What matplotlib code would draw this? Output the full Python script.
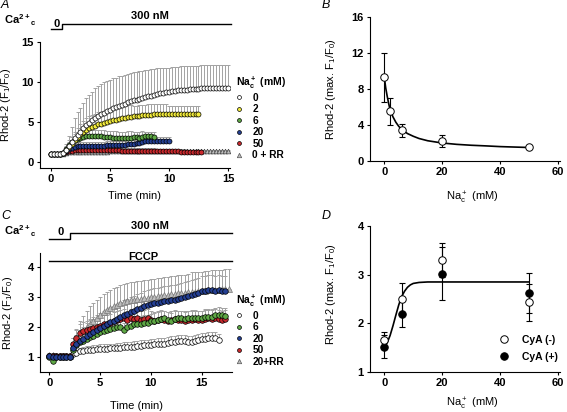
import matplotlib.pyplot as plt
import numpy as np
from matplotlib.lines import Line2D

# ---- panel A: Rhod-2 traces, 300 nM Ca, sampled every 0.25 min ----
DT_A = 0.25
A_NA0 = [1.0, 1.0, 1.0, 1.0,
         1.1, 1.5, 2.0, 2.5, 3.0, 3.4, 3.8, 4.2, 4.6, 4.9, 5.2, 5.5,
         5.75, 5.95, 6.15, 6.35,
         6.55, 6.7, 6.85, 7.0, 7.15, 7.3, 7.45, 7.6,
         7.7, 7.8, 7.9, 8.0, 8.1, 8.2, 8.3, 8.4, 8.5, 8.6, 8.65, 8.7,
         8.8, 8.85, 8.9, 8.95, 9.0, 9.05, 9.05, 9.1, 9.1, 9.15, 9.15, 9.2,
         9.2, 9.2, 9.2, 9.25, 9.25, 9.25, 9.25, 9.25, 9.2]
A_NA0_ERR = [0.2, 0.2, 0.2, 0.2,
             0.3, 0.8, 1.3, 1.9, 2.5, 2.8, 3.0, 3.2, 3.4, 3.5, 3.6, 3.7,
             3.75, 3.8, 3.8, 3.8,
             3.75, 3.75, 3.7, 3.7, 3.65, 3.6, 3.6, 3.55,
             3.5, 3.5, 3.45, 3.4, 3.4, 3.35, 3.3, 3.25, 3.2, 3.15, 3.1, 3.05,
             3.0, 3.0, 3.0, 2.95, 2.95, 2.95, 2.9, 2.9, 2.9, 2.9, 2.9, 2.9,
             2.9, 2.9, 2.9, 2.9, 2.9, 2.9, 2.9, 2.9, 2.9]
A_NA2 = [1.0, 1.0, 1.0, 1.0,
         1.1, 1.5, 1.9, 2.3, 2.7, 3.1, 3.45, 3.75, 4.0, 4.2, 4.4, 4.55,
         4.7, 4.8, 4.9, 5.0, 5.1, 5.2, 5.3, 5.4, 5.5, 5.55, 5.6, 5.65,
         5.7, 5.75, 5.8, 5.85, 5.85, 5.9, 5.9, 5.95, 5.95, 6.0, 5.95, 6.0,
         6.0, 6.0, 6.05, 6.0, 6.05, 6.05, 6.0, 6.05, 6.05, 6.05, 6.05]
A_NA2_ERR = [0.1, 0.1, 0.1, 0.1,
             0.2, 0.4, 0.6, 0.8, 1.0, 1.2, 1.3, 1.4,
             1.5, 1.5, 1.5, 1.5, 1.5, 1.5, 1.5, 1.5,
             1.5, 1.5, 1.5, 1.5, 1.5, 1.5, 1.5, 1.5,
             1.3, 1.3, 1.3, 1.3, 1.3, 1.3, 1.3, 1.3, 1.3, 1.3, 1.3, 1.3,
             1.0, 1.0, 1.0, 1.0, 1.0, 0.95, 0.95, 0.9, 0.9, 0.9, 0.9]
A_NA6 = [1.0, 1.0, 1.0, 1.0,
         1.1, 1.6, 2.1, 2.45, 2.7, 2.9, 3.05, 3.15, 3.2, 3.25, 3.25, 3.25,
         3.2, 3.2, 3.15, 3.1, 3.1, 3.05, 3.05, 3.0, 3.0, 3.0, 3.05, 3.05,
         3.1, 3.1, 3.05, 3.15, 3.2, 3.2, 3.2, 3.15]
A_NA6_ERR = [0.1, 0.1, 0.1, 0.1,
             0.2, 0.4, 0.6, 0.7, 0.8, 0.8, 0.8, 0.8, 0.8, 0.8, 0.8, 0.8,
             0.8, 0.8, 0.8, 0.8, 0.8, 0.8, 0.8, 0.8, 0.8, 0.8, 0.8, 0.8,
             0.7, 0.7, 0.7, 0.7, 0.6, 0.6, 0.6, 0.6]
A_NA20 = [1.0, 1.0, 1.0, 1.0,
          1.1, 1.4, 1.65, 1.8, 1.9, 1.95, 2.0, 2.0, 2.05, 2.05, 2.05, 2.05,
          2.05, 2.05, 2.05, 2.1, 2.1, 2.1, 2.1, 2.15, 2.15, 2.15, 2.2, 2.2,
          2.3, 2.35, 2.35, 2.55, 2.6, 2.6, 2.6, 2.6, 2.6, 2.6, 2.6, 2.6, 2.6]
A_NA20_ERR = [0.1, 0.1, 0.1, 0.1,
              0.2, 0.3, 0.4, 0.5, 0.5, 0.5, 0.5, 0.5, 0.5, 0.5, 0.5, 0.5,
              0.5, 0.5, 0.5, 0.5, 0.5, 0.5, 0.5, 0.5, 0.5, 0.5, 0.5, 0.5,
              0.5, 0.5, 0.5, 0.5, 0.5, 0.5, 0.5, 0.5, 0.5, 0.5, 0.5, 0.5, 0.5]
A_NA50 = [1.0, 1.0, 1.0, 1.0,
          1.1, 1.25, 1.35, 1.4,
          1.45, 1.45, 1.45, 1.45, 1.45, 1.45, 1.45, 1.45,
          1.45, 1.45, 1.45, 1.45, 1.45, 1.45, 1.45, 1.45,
          1.4, 1.4, 1.4, 1.4, 1.4, 1.4, 1.4, 1.4, 1.4, 1.4, 1.4, 1.4,
          1.35, 1.35, 1.35, 1.35, 1.35, 1.35, 1.35, 1.35,
          1.3, 1.3, 1.25, 1.25, 1.25, 1.2, 1.2, 1.2]
A_NA50_ERR = [0.1, 0.1, 0.1, 0.1,
              0.2, 0.3, 0.3, 0.3, 0.3, 0.3, 0.3, 0.3, 0.3, 0.3, 0.3, 0.3,
              0.3, 0.3, 0.3, 0.3, 0.3, 0.3, 0.3, 0.3, 0.3, 0.3, 0.3, 0.3,
              0.3, 0.3, 0.3, 0.3, 0.3, 0.3, 0.3, 0.3, 0.3, 0.3, 0.3, 0.3,
              0.3, 0.3, 0.3, 0.3, 0.3, 0.3, 0.3, 0.3, 0.3, 0.3, 0.3, 0.3]
A_NA0_RR = [1.0, 1.0, 1.0, 1.0,
            1.05, 1.15, 1.2, 1.25,
            1.3, 1.3, 1.3, 1.3, 1.3, 1.3, 1.3, 1.3, 1.3, 1.3, 1.3, 1.3,
            1.35, 1.35, 1.35, 1.35, 1.35, 1.35, 1.35, 1.35, 1.35, 1.35,
            1.35, 1.35, 1.35, 1.35, 1.35, 1.35, 1.35, 1.35, 1.35, 1.35,
            1.4, 1.4, 1.4, 1.4, 1.4, 1.4, 1.4, 1.4, 1.4, 1.4, 1.4,
            1.4, 1.4, 1.4, 1.4, 1.4, 1.4, 1.4, 1.4, 1.4, 1.4]
A_NA0_RR_ERR = [0.05, 0.05, 0.05, 0.05,
                0.1, 0.15, 0.15, 0.15, 0.15, 0.15, 0.15, 0.15, 0.15, 0.15,
                0.15, 0.15, 0.15, 0.15, 0.15, 0.15, 0.15, 0.15, 0.15, 0.15,
                0.15, 0.15, 0.15, 0.15, 0.15, 0.15, 0.15, 0.15, 0.15, 0.15,
                0.15, 0.15, 0.15, 0.15, 0.15, 0.15, 0.15, 0.15, 0.15, 0.15,
                0.15, 0.15, 0.15, 0.15, 0.15, 0.15, 0.15, 0.15, 0.15, 0.15,
                0.15, 0.15, 0.15, 0.15, 0.15, 0.15, 0.15]

# ---- panel B: peak Rhod-2 vs cytosolic Na ----
B_NA = [0, 2, 6, 20, 50]
B_MAX = [9.3, 5.5, 3.4, 2.25, 1.5]
B_SEM = [2.75, 1.5, 0.7, 0.65, 0.1]
B_FIT_X = [0, 0.5, 1, 1.5, 2, 3, 4, 5, 6, 8, 10, 12, 15, 20, 25, 30, 35, 40, 45, 50]
B_FIT_Y = [9.3, 8.1, 7.2, 6.4, 5.7, 4.9, 4.3, 3.85, 3.5, 3.05, 2.75, 2.5, 2.25,
           2.0, 1.85, 1.75, 1.68, 1.6, 1.55, 1.5]

# ---- panel C: traces with FCCP, sampled every 1/3 min ----
DT_C = 1 / 3
C_NA0 = [1.05, 1.05, 1.05, 1.05, 1.05, 1.05, 1.05,
         1.1, 1.15, 1.2, 1.22, 1.24, 1.25, 1.26, 1.27, 1.28, 1.28, 1.29,
         1.3, 1.3, 1.31, 1.32, 1.33, 1.33, 1.35, 1.36, 1.37, 1.39, 1.4, 1.41,
         1.42, 1.43, 1.44, 1.45, 1.46, 1.48, 1.5, 1.52, 1.53, 1.54, 1.53, 1.5,
         1.52, 1.55, 1.58, 1.6, 1.62, 1.63, 1.65, 1.64, 1.58]
C_NA0_ERR = [0.05, 0.05, 0.05, 0.05, 0.05, 0.05, 0.05,
             0.08, 0.1, 0.12, 0.12, 0.13, 0.13, 0.14, 0.14, 0.15, 0.15, 0.15,
             0.15, 0.16, 0.16, 0.16, 0.17, 0.17, 0.17, 0.18, 0.18, 0.18, 0.18,
             0.18, 0.18, 0.18, 0.19, 0.19, 0.19, 0.19, 0.2, 0.2, 0.2, 0.2, 0.2,
             0.2, 0.2, 0.2, 0.2, 0.2, 0.2, 0.2, 0.2, 0.2, 0.2]
C_NA6 = [1.0, 0.88, 1.0, 1.0, 1.0, 1.0, 1.0,
         1.25, 1.4, 1.5, 1.55, 1.62, 1.68, 1.72, 1.78, 1.83, 1.87, 1.9,
         1.95, 1.98, 2.0, 2.02, 1.9, 2.02, 2.05, 2.1, 2.12, 2.12, 2.15, 2.15,
         2.2, 2.22, 2.25, 2.28, 2.3, 2.25, 2.22, 2.28, 2.3, 2.3, 2.28, 2.3,
         2.32, 2.3, 2.3, 2.3, 2.35, 2.33, 2.35, 2.4, 2.42, 2.4, 2.38]
C_NA6_ERR = [0.05, 0.05, 0.05, 0.05, 0.05, 0.05, 0.05,
             0.15, 0.2, 0.2, 0.22, 0.22, 0.24, 0.24, 0.25, 0.25, 0.25, 0.25,
             0.25, 0.25, 0.25, 0.25, 0.25, 0.25, 0.25, 0.25, 0.25, 0.25, 0.25,
             0.25, 0.25, 0.25, 0.25, 0.25, 0.25, 0.25, 0.25, 0.25, 0.25, 0.25,
             0.25, 0.25, 0.25, 0.25, 0.25, 0.25, 0.25, 0.25, 0.25, 0.25, 0.25,
             0.25, 0.25]
C_NA20 = [1.03, 1.0, 1.0, 1.0, 1.0, 1.0, 1.02,
          1.3, 1.45, 1.55, 1.62, 1.7, 1.77, 1.83, 1.9, 1.97, 2.03, 2.1,
          2.17, 2.22, 2.28, 2.35, 2.4, 2.45, 2.5, 2.55, 2.6, 2.65, 2.7, 2.73,
          2.77, 2.8, 2.82, 2.85, 2.87, 2.88, 2.9, 2.92, 2.95, 2.98, 3.02, 3.05,
          3.08, 3.12, 3.15, 3.2, 3.22, 3.25, 3.25, 3.22, 3.25, 3.2, 3.22]
C_NA20_ERR = [0.05, 0.05, 0.05, 0.05, 0.05, 0.05, 0.05,
              0.2, 0.3, 0.35, 0.4, 0.45, 0.5, 0.5, 0.5, 0.5, 0.5, 0.5,
              0.5, 0.5, 0.5, 0.5, 0.5, 0.5, 0.5, 0.5, 0.5, 0.5, 0.5, 0.5,
              0.5, 0.5, 0.5, 0.5, 0.5, 0.5, 0.5, 0.5, 0.5, 0.5, 0.5, 0.5,
              0.5, 0.5, 0.5, 0.5, 0.5, 0.5, 0.5, 0.5, 0.5, 0.5, 0.5]
C_NA50 = [1.05, 1.05, 1.05, 1.05, 1.05, 1.05, 1.05,
          1.45, 1.65, 1.8, 1.88, 1.92, 1.95, 1.97, 2.0, 2.05, 2.1, 2.12,
          2.15, 2.2, 2.25, 2.28, 2.3, 2.25, 2.3, 2.28, 2.3, 2.25, 2.28, 2.3,
          2.25, 2.22, 2.25, 2.28, 2.25, 2.22, 2.25, 2.28, 2.25, 2.25, 2.22, 2.25,
          2.25, 2.28, 2.25, 2.25, 2.28, 2.3, 2.28, 2.3, 2.28, 2.26, 2.27]
C_NA50_ERR = [0.05, 0.05, 0.05, 0.05, 0.05, 0.05, 0.05,
              0.2, 0.25, 0.3, 0.3, 0.3, 0.3, 0.3, 0.3, 0.3, 0.3, 0.3,
              0.3, 0.3, 0.3, 0.3, 0.3, 0.3, 0.3, 0.3, 0.3, 0.3, 0.3, 0.3,
              0.3, 0.3, 0.3, 0.3, 0.3, 0.3, 0.3, 0.3, 0.3, 0.3, 0.3, 0.3,
              0.3, 0.3, 0.3, 0.3, 0.3, 0.3, 0.3, 0.3, 0.3, 0.3, 0.3]
C_NA20_RR = [1.08, 1.08, 1.05, 1.05, 1.05, 1.05, 1.05,
             1.4, 1.6, 1.75, 1.88, 2.0, 2.1, 2.2, 2.3, 2.4, 2.5, 2.58,
             2.65, 2.7, 2.75, 2.8, 2.83, 2.87, 2.9, 2.92, 2.94, 2.95, 2.97, 2.98,
             3.0, 3.02, 3.03, 3.05, 3.07, 3.08, 3.1, 3.12, 3.13, 3.15, 3.16, 3.17,
             3.18, 3.19, 3.2, 3.2, 3.22, 3.23, 3.25, 3.25, 3.26, 3.27, 3.28, 3.28]
C_NA20_RR_ERR = [0.05, 0.05, 0.05, 0.05, 0.05, 0.05, 0.05,
                 0.25, 0.35, 0.45, 0.5, 0.55, 0.6, 0.6, 0.6, 0.6, 0.6, 0.6,
                 0.6, 0.6, 0.6, 0.6, 0.6, 0.6, 0.6, 0.6, 0.6, 0.6, 0.6, 0.6,
                 0.6, 0.6, 0.6, 0.6, 0.6, 0.6, 0.6, 0.6, 0.6, 0.6, 0.6, 0.6,
                 0.65, 0.65, 0.65, 0.65, 0.65, 0.65, 0.65, 0.65, 0.65, 0.65,
                 0.65, 0.65]

# ---- panel D: peak Rhod-2 with / without cyclosporin A ----
D_NA = [0, 6, 20, 50]
D_CYA_MINUS = [1.65, 2.5, 3.3, 2.43]
D_CYA_MINUS_SEM = [0.17, 0.32, 0.35, 0.38]
D_CYA_PLUS = [1.52, 2.2, 3.02, 2.63]
D_CYA_PLUS_SEM = [0.24, 0.28, 0.55, 0.41]
D_FIT_X = [0, 1, 2, 3, 4, 5, 6, 7, 8, 9, 10, 12, 15, 20, 30, 40, 50]
D_FIT_Y = [1.55, 1.6, 1.75, 1.95, 2.17, 2.38, 2.55, 2.66, 2.74, 2.79, 2.82,
           2.84, 2.85, 2.85, 2.85, 2.85, 2.85]

LEGEND_A = ['0', '2', '6', '20', '50', '0 + RR']
LEGEND_C = ['0', '6', '20', '50', '20+RR']

YELLOW = '#f3ec3c'
GREEN = '#5ea845'
BLUE = '#243f93'
RED = '#c9292d'
TRI = '#bdbdbd'
ERR_GRAY = '#a3a3a3'

plt.rcParams['font.family'] = 'Liberation Sans'
plt.rcParams['font.weight'] = 'bold'
plt.rcParams['mathtext.default'] = 'regular'
plt.rcParams['axes.linewidth'] = 0.8

W, H = 567, 412
fig = plt.figure(figsize=(W / 100, H / 100), dpi=100)
FS = 8


def axes_px(left, right, top, bottom):
    return fig.add_axes([left / W, 1 - bottom / H, (right - left) / W, (bottom - top) / H])


def style(ax):
    for side in ('top', 'right'):
        ax.spines[side].set_visible(False)
    ax.tick_params(direction='out', length=2.5, width=0.8, labelsize=FS, pad=2)


def trace(ax, dt, y, err, marker, face, ms, z, edge='black'):
    t = np.arange(len(y)) * dt
    ax.errorbar(t, y, yerr=[np.zeros(len(err)), err], fmt='none', ecolor=ERR_GRAY,
                elinewidth=0.7, capsize=1.6, capthick=0.7, zorder=1)
    ax.plot(t, y, ls='none', marker=marker, ms=ms, mfc=face, mec=edge, mew=0.5, zorder=z)


def ca_bar(ax, x0, xs, x1, ylo, yhi, zero_x, zero_y, nm_x, nm_y):
    tr = ax.get_xaxis_transform()
    ax.plot([x0, xs, xs, x1], [ylo, ylo, yhi, yhi], color='black', lw=1.0,
            transform=tr, clip_on=False)
    ax.text(zero_x, zero_y, '0', transform=tr, ha='center', va='baseline', fontsize=FS)
    ax.text(nm_x, nm_y, '300 nM', transform=tr, ha='center', va='baseline', fontsize=FS)


def na_legend(ax, handles, labels, x, y):
    ax.legend(handles, labels, title=r'Na$^+_c$ (mM)', loc='upper left',
              bbox_to_anchor=(x / W, 1 - y / H), bbox_transform=fig.transFigure,
              frameon=False, fontsize=7.3, title_fontsize=7.5, handlelength=0.6,
              handletextpad=1.0, labelspacing=0.15, borderpad=0, borderaxespad=0,
              alignment='left')


def circ(face, ms=2.8):
    return Line2D([], [], ls='none', marker='o', ms=ms, mfc=face, mec='black', mew=0.5)


def tri(ms=3.2):
    return Line2D([], [], ls='none', marker='^', ms=ms, mfc=TRI, mec='#555555', mew=0.5)


# ---------------- A ----------------
axA = axes_px(40, 230, 42, 168)
style(axA)
trace(axA, DT_A, A_NA0_RR, A_NA0_RR_ERR, '^', TRI, 3.4, 2, edge='#444444')
trace(axA, DT_A, A_NA50, A_NA50_ERR, 'o', RED, 3.6, 3)
trace(axA, DT_A, A_NA20, A_NA20_ERR, 'o', BLUE, 3.6, 4)
trace(axA, DT_A, A_NA6, A_NA6_ERR, 'o', GREEN, 3.6, 5)
trace(axA, DT_A, A_NA2, A_NA2_ERR, 'o', YELLOW, 3.6, 6)
trace(axA, DT_A, A_NA0, A_NA0_ERR, 'o', 'white', 3.6, 7)
axA.set_xlim(-0.93, 15.17)
axA.set_ylim(-0.75, 15)
axA.set_xticks([0, 5, 10, 15])
axA.set_yticks([0, 5, 10, 15])
axA.set_xlabel('Time (min)', fontsize=FS)
axA.xaxis.set_label_coords(0.5, -0.185)
axA.set_ylabel(r'Rhod-2 (F$_1$/F$_0$)', fontsize=FS)
axA.yaxis.set_label_coords(-0.14, 0.5)
ca_bar(axA, 0, 0.9, 15.25, 1.103, 1.143, 0.45, 1.119, 8.4, 1.18)
na_legend(axA, [circ('white'), circ(YELLOW), circ(GREEN), circ(BLUE), circ(RED), tri()],
          LEGEND_A, 236, 75)

# ---------------- B ----------------
axB = axes_px(370, 560, 17, 161)
style(axB)
axB.plot(B_FIT_X, B_FIT_Y, color='black', lw=1.2, zorder=2)
axB.errorbar(B_NA, B_MAX, yerr=B_SEM, fmt='none', ecolor='black', elinewidth=0.8,
             capsize=2.5, capthick=0.8, zorder=2)
axB.plot(B_NA, B_MAX, ls='none', marker='o', ms=5.4, mfc='white', mec='black',
         mew=0.7, zorder=3)
axB.set_xlim(-4.94, 60.7)
axB.set_ylim(0, 16)
axB.set_xticks([0, 20, 40, 60])
axB.set_yticks([0, 4, 8, 12, 16])
axB.set_xlabel(r'Na$^+_c$ (mM)', fontsize=FS)
axB.xaxis.set_label_coords(0.54, -0.2)
axB.set_ylabel(r'Rhod-2 (max. F$_1$/F$_0$)', fontsize=FS)
axB.yaxis.set_label_coords(-0.17, 0.5)

# ---------------- C ----------------
axC = axes_px(40, 232, 253, 372)
style(axC)
trace(axC, DT_C, C_NA20_RR, C_NA20_RR_ERR, '^', TRI, 3.8, 2, edge='#777777')
trace(axC, DT_C, C_NA0, C_NA0_ERR, 'o', 'white', 4.0, 3)
trace(axC, DT_C, C_NA50, C_NA50_ERR, 'o', RED, 4.0, 4)
trace(axC, DT_C, C_NA6, C_NA6_ERR, 'o', GREEN, 4.0, 5)
trace(axC, DT_C, C_NA20, C_NA20_ERR, 'o', BLUE, 4.0, 6)
axC.set_xlim(-0.92, 17.98)
axC.set_ylim(0.51, 4.48)
axC.set_xticks([0, 5, 10, 15])
axC.set_yticks([1, 2, 3, 4])
axC.set_xlabel('Time (min)', fontsize=FS)
axC.xaxis.set_label_coords(0.5, -0.24)
axC.set_ylabel(r'Rhod-2 (F$_1$/F$_0$)', fontsize=FS)
axC.yaxis.set_label_coords(-0.13, 0.5)
axC.plot([0, 18], [4.2, 4.2], color='black', lw=1.0, clip_on=False)
axC.text(9.27, 4.25, 'FCCP', ha='center', va='baseline', fontsize=FS)
ca_bar(axC, 0, 2.05, 17.95, 1.115, 1.168, 1.1, 1.151, 9.9, 1.199)
na_legend(axC, [circ('white'), circ(GREEN), circ(BLUE), circ(RED), tri()],
          LEGEND_C, 236, 293)

# ---------------- D ----------------
axD = axes_px(370, 560, 226, 372)
style(axD)
axD.plot(D_FIT_X, D_FIT_Y, color='black', lw=1.2, zorder=2)
axD.errorbar(D_NA, D_CYA_PLUS, yerr=D_CYA_PLUS_SEM, fmt='none', ecolor='black',
             elinewidth=0.8, capsize=2.5, capthick=0.8, zorder=2)
axD.errorbar(D_NA, D_CYA_MINUS, yerr=D_CYA_MINUS_SEM, fmt='none', ecolor='black',
             elinewidth=0.8, capsize=2.5, capthick=0.8, zorder=2)
axD.plot(D_NA, D_CYA_PLUS, ls='none', marker='o', ms=5.4, mfc='black', mec='black',
         mew=0.7, zorder=3, label='CyA (+)')
axD.plot(D_NA, D_CYA_MINUS, ls='none', marker='o', ms=5.4, mfc='white', mec='black',
         mew=0.7, zorder=4, label='CyA (-)')
axD.set_xlim(-4.94, 60.7)
axD.set_ylim(1, 4)
axD.set_xticks([0, 20, 40, 60])
axD.set_yticks([1, 2, 3, 4])
axD.set_xlabel(r'Na$^+_c$ (mM)', fontsize=FS)
axD.xaxis.set_label_coords(0.54, -0.16)
axD.set_ylabel(r'Rhod-2 (max. F$_1$/F$_0$)', fontsize=FS)
axD.yaxis.set_label_coords(-0.17, 0.53)
h, l = axD.get_legend_handles_labels()
axD.legend(h[::-1], l[::-1], loc='upper left', bbox_to_anchor=(500 / W, 1 - 335 / H),
           bbox_transform=fig.transFigure, frameon=False, fontsize=7.5,
           handlelength=0.8, handletextpad=1.3, labelspacing=0.65, borderpad=0,
           borderaxespad=0)

# panel letters and Ca labels
for letter, x, y in [('A', 1, 8), ('B', 322, 8), ('C', 1, 219), ('D', 322, 219)]:
    fig.text(x / W, 1 - y / H, letter, style='italic', weight='normal', fontsize=9,
             va='baseline')
for y in (24, 235):
    fig.text(4 / W, 1 - y / H, r'Ca$^{2+}{}_c$', fontsize=FS, va='baseline')

fig.savefig('out.png', dpi=100)
